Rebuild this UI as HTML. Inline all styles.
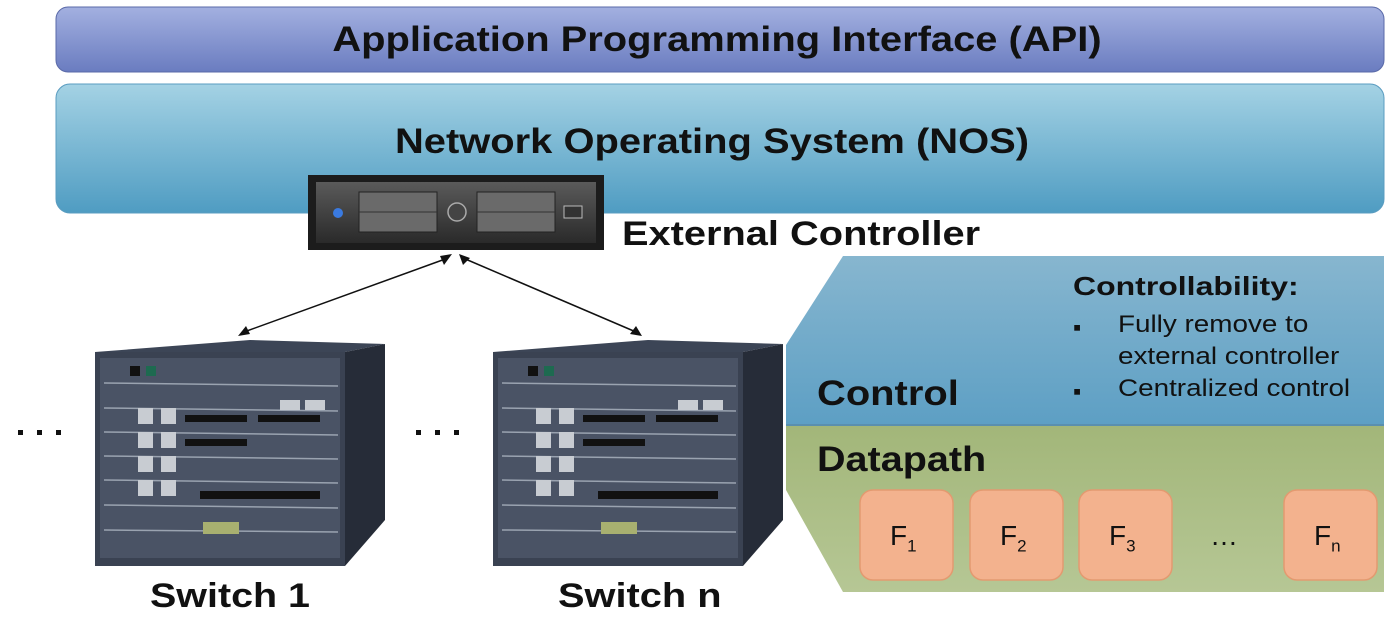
<!DOCTYPE html>
<html><head><style>
body{margin:0;width:1396px;height:618px;background:#fff;position:relative;overflow:hidden;font-family:"Liberation Sans",Arial,sans-serif}
.t{position:absolute;font-weight:bold;color:#111;white-space:nowrap;transform-origin:0 50%}
.c{transform-origin:50% 50%}
</style></head><body>
<svg width="1396" height="618" style="position:absolute;left:0;top:0">
<defs>
<linearGradient id="api" x1="0" y1="0" x2="0" y2="1"><stop offset="0" stop-color="#a3b0e0"/><stop offset="1" stop-color="#6a7cc0"/></linearGradient>
<linearGradient id="nos" x1="0" y1="0" x2="0" y2="1"><stop offset="0" stop-color="#a4d2e4"/><stop offset="1" stop-color="#4f9cc2"/></linearGradient>
<linearGradient id="ctl" x1="0" y1="0" x2="0" y2="1"><stop offset="0" stop-color="#87b6cf"/><stop offset="1" stop-color="#5d9fc4"/></linearGradient>
<linearGradient id="dp" x1="0" y1="0" x2="0" y2="1"><stop offset="0" stop-color="#a2b679"/><stop offset="1" stop-color="#b6c795"/></linearGradient>
<linearGradient id="srv" x1="0" y1="0" x2="0" y2="1"><stop offset="0" stop-color="#5a5a5a"/><stop offset="1" stop-color="#2a2a2a"/></linearGradient>
</defs>
<rect x="56" y="7" width="1328" height="65" rx="12" fill="url(#api)" stroke="#5a6aa8"/>
<rect x="56" y="84" width="1328" height="129" rx="14" fill="url(#nos)" stroke="#5a9cc0"/>
<polygon points="843,256 1384,256 1384,425 786,425 786,345" fill="url(#ctl)"/>
<polygon points="786,425 1384,425 1384,592 843,592 786,490" fill="url(#dp)"/>
<line x1="786" y1="425" x2="1384" y2="425" stroke="#5a8fae" stroke-width="2"/>
<g fill="#f3b28e" stroke="#e39a70" stroke-width="1.5">
<rect x="860" y="490" width="93" height="90" rx="13"/><rect x="970" y="490" width="93" height="90" rx="13"/><rect x="1079" y="490" width="93" height="90" rx="13"/><rect x="1284" y="490" width="93" height="90" rx="13"/></g>
<rect x="308" y="175" width="296" height="75" fill="#1c1c1c"/>
<rect x="316" y="182" width="280" height="61" fill="url(#srv)"/>
<circle cx="338" cy="213" r="5" fill="#3a7ae0"/>
<rect x="359" y="192" width="78" height="40" fill="#6a6a6a" stroke="#222"/><line x1="359" y1="212" x2="437" y2="212" stroke="#333"/>
<rect x="477" y="192" width="78" height="40" fill="#6a6a6a" stroke="#222"/><line x1="477" y1="212" x2="555" y2="212" stroke="#333"/>
<circle cx="457" cy="212" r="9" fill="#444" stroke="#aaa" stroke-width="1.5"/>
<rect x="564" y="206" width="18" height="12" fill="#333" stroke="#bbb"/>
<g stroke="#111" stroke-width="1.5"><line x1="448" y1="258" x2="244" y2="332"/><line x1="463" y1="258" x2="636" y2="332"/></g>
<g fill="#111"><polygon points="452,254 440,256 444,265"/><polygon points="459,254 463,265 470,258"/><polygon points="238,336 246,326 250,334"/><polygon points="642,336 630,334 636,326"/></g>
<g id="sw">
<polygon points="95,352 250,340 385,344 345,352" fill="#3c4556"/>
<polygon points="345,352 385,344 385,520 345,566" fill="#262c38"/>
<rect x="95" y="352" width="250" height="214" fill="#3a4252"/>
<rect x="100" y="358" width="240" height="200" fill="#4a5365"/>
<g stroke="#9aa3b0" stroke-width="1.5"><line x1="104" y1="383" x2="338" y2="386"/><line x1="104" y1="408" x2="338" y2="411"/><line x1="104" y1="432" x2="338" y2="435"/><line x1="104" y1="456" x2="338" y2="459"/><line x1="104" y1="480" x2="338" y2="483"/><line x1="104" y1="505" x2="338" y2="508"/><line x1="104" y1="530" x2="338" y2="532"/></g>
<g fill="#c8ccd2"><rect x="138" y="408" width="15" height="16"/><rect x="161" y="408" width="15" height="16"/><rect x="138" y="432" width="15" height="16"/><rect x="161" y="432" width="15" height="16"/><rect x="138" y="456" width="15" height="16"/><rect x="161" y="456" width="15" height="16"/><rect x="138" y="480" width="15" height="16"/><rect x="161" y="480" width="15" height="16"/><rect x="280" y="400" width="20" height="10"/><rect x="305" y="400" width="20" height="10"/></g>
<g fill="#111"><rect x="185" y="415" width="62" height="7"/><rect x="258" y="415" width="62" height="7"/><rect x="185" y="439" width="62" height="7"/><rect x="200" y="491" width="120" height="8"/></g>
<rect x="203" y="522" width="36" height="12" fill="#a8b070"/>
<rect x="130" y="366" width="10" height="10" fill="#111"/><rect x="146" y="366" width="10" height="10" fill="#1e6a50"/>
</g>
<use href="#sw" x="398"/>
<g fill="#111"><rect x="18" y="430" width="5" height="5"/><rect x="37" y="430" width="5" height="5"/><rect x="56" y="430" width="5" height="5"/><rect x="416" y="430" width="5" height="5"/><rect x="435" y="430" width="5" height="5"/><rect x="454" y="430" width="5" height="5"/></g>
</svg>
<div class="t c" style="left:0;width:1434px;text-align:center;top:20px;font-size:35px;transform:scaleX(1.14)">Application Programming Interface (API)</div>
<div class="t c" style="left:0;width:1424px;text-align:center;top:122px;font-size:35px;transform:scaleX(1.14)">Network Operating System (NOS)</div>
<div class="t" style="left:622px;top:215px;font-size:34px;transform:scaleX(1.17)">External Controller</div>
<div class="t" style="left:1073px;top:271px;font-size:26px;transform:scaleX(1.23)">Controllability:</div>
<div style="position:absolute;left:1073px;top:312px;font-size:23px;line-height:30px;color:#111">▪</div>
<div style="position:absolute;left:1118px;top:309px;font-size:24px;line-height:32px;color:#111;transform:scaleX(1.16);transform-origin:0 0;white-space:nowrap">Fully remove to<br>external controller<br>Centralized control</div>
<div style="position:absolute;left:1073px;top:376px;font-size:23px;line-height:30px;color:#111">▪</div>
<div class="t" style="left:817px;top:374px;font-size:35px;transform:scaleX(1.14)">Control</div>
<div class="t" style="left:817px;top:440px;font-size:35px;transform:scaleX(1.13)">Datapath</div>
<div style="position:absolute;top:520px;font-size:28px;color:#111;left:890px">F<sub style="font-size:17px">1</sub></div>
<div style="position:absolute;top:520px;font-size:28px;color:#111;left:1000px">F<sub style="font-size:17px">2</sub></div>
<div style="position:absolute;top:520px;font-size:28px;color:#111;left:1109px">F<sub style="font-size:17px">3</sub></div>
<div style="position:absolute;top:520px;font-size:28px;color:#111;left:1210px">…</div>
<div style="position:absolute;top:520px;font-size:28px;color:#111;left:1314px">F<sub style="font-size:17px">n</sub></div>
<div class="t" style="left:150px;top:577px;font-size:34px;transform:scaleX(1.16)">Switch 1</div>
<div class="t" style="left:558px;top:577px;font-size:34px;transform:scaleX(1.17)">Switch n</div>
</body></html>
